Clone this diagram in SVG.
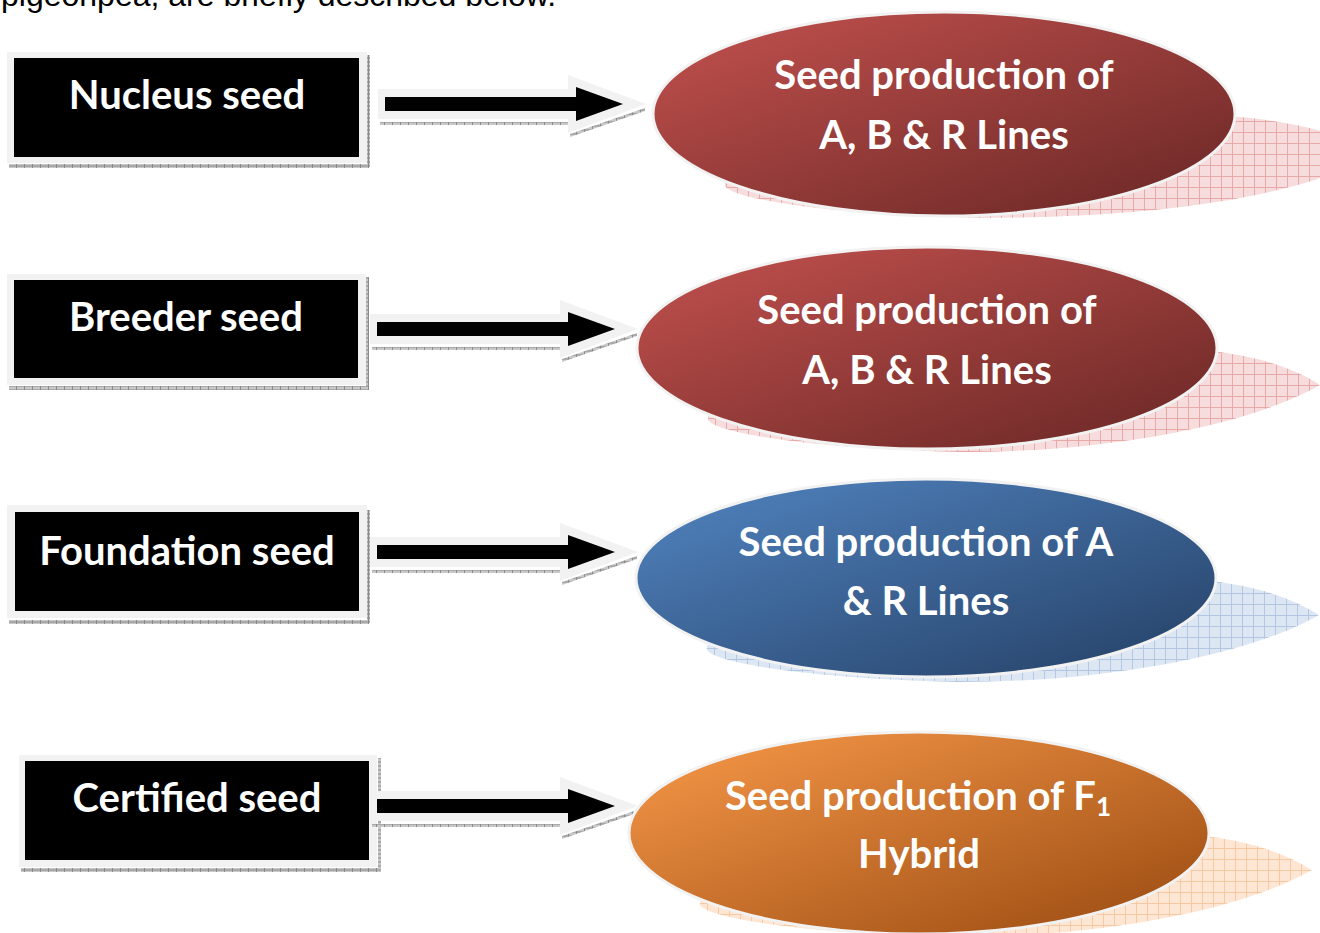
<svg xmlns="http://www.w3.org/2000/svg" width="1320" height="933" viewBox="0 0 1320 933">
<style>
.intro{font-family:"Liberation Sans",Arial,sans-serif;font-size:32px;fill:#000}
.lbl{font-family:Lato,"Open Sans",sans-serif;font-weight:bold;font-size:40px;fill:#fff;text-anchor:middle}
.frame{fill:#f2f2f2}
.blk{fill:#000}
.shd{fill:url(#ghatch)}
.ell{stroke:#f2f2f2;stroke-width:3}
</style>
<defs>
<pattern id="ghatch" width="8" height="4" patternUnits="userSpaceOnUse">
<rect width="8" height="4" fill="#c8c8c8"/>
<line x1="0" y1="2" x2="8" y2="2" stroke="#8a8a8a" stroke-width="1"/>
<line x1="0.5" y1="0" x2="0.5" y2="4" stroke="#8a8a8a" stroke-width="1"/>
</pattern>
<pattern id="pinkGrid" width="11" height="11" patternUnits="userSpaceOnUse">
<rect width="11" height="11" fill="#f6dcdc"/>
<path d="M0 0.5H11M0.5 0V11" stroke="#e6a9a8" stroke-width="1"/>
</pattern>
<pattern id="blueGrid" width="11" height="11" patternUnits="userSpaceOnUse">
<rect width="11" height="11" fill="#dde7f3"/>
<path d="M0 0.5H11M0.5 0V11" stroke="#b3c7e2" stroke-width="1"/>
</pattern>
<pattern id="orangeGrid" width="11" height="11" patternUnits="userSpaceOnUse">
<rect width="11" height="11" fill="#fde6d4"/>
<path d="M0 0.5H11M0.5 0V11" stroke="#f7c9a2" stroke-width="1"/>
</pattern>
<linearGradient id="gRed" x1="0" y1="0" x2="1" y2="1">
<stop offset="0" stop-color="#c4524f"/>
<stop offset="1" stop-color="#672624"/>
</linearGradient>
<linearGradient id="gBlue" x1="0" y1="0" x2="1" y2="1">
<stop offset="0" stop-color="#5285c2"/>
<stop offset="1" stop-color="#243f64"/>
</linearGradient>
<linearGradient id="gOrange" x1="0" y1="0" x2="1" y2="1">
<stop offset="0" stop-color="#f99a4a"/>
<stop offset="1" stop-color="#984910"/>
</linearGradient>
<g id="arrow">
<rect class="shd" x="372" y="18" width="188" height="3"/>
<path class="shd" d="M562 30 L637 4 L637 7 L562 33 Z"/>
<path class="frame" d="M370 -15 H560 V-29 L638 0 L560 29 V15 H370 Z"/>
<path class="blk" d="M377 -7 H568 V-17 L615 0 L568 17 V7 H377 Z"/>
</g>
<path id="shadow" d="M708,420 C715,432 800,448 960,452 C1110,452 1250,425 1320,385 C1290,366 1250,354 1200,350 C1000,335 700,380 708,420 Z"/>
</defs>

<text class="intro" x="1" y="6">pigeonpea, are briefly described below.</text>

<g id="nucleus">
<rect class="shd" x="9" y="164" width="360" height="4"/>
<rect class="shd" x="367" y="55" width="3" height="112"/>
<rect class="frame" x="7" y="52" width="360" height="111"/>
<rect class="blk" x="14" y="58" width="345" height="99"/>
<text class="lbl" x="187" y="109">Nucleus seed</text>
</g>

<g id="breeder">
<rect class="shd" x="9" y="386" width="360" height="4"/>
<rect class="shd" x="366" y="277" width="3" height="112"/>
<rect class="frame" x="7" y="274" width="359" height="111"/>
<rect class="blk" x="14" y="280" width="344" height="98"/>
<text class="lbl" x="186" y="331">Breeder seed</text>
</g>

<g id="foundation">
<rect class="shd" x="9" y="620" width="360" height="4"/>
<rect class="shd" x="367" y="510" width="3" height="113"/>
<rect class="frame" x="7" y="505" width="360" height="113"/>
<rect class="blk" x="15" y="512" width="344" height="99"/>
<text class="lbl" x="187" y="565">Foundation seed</text>
</g>

<g id="certified">
<rect class="shd" x="21" y="868" width="360" height="4"/>
<rect class="shd" x="378" y="758" width="3" height="113"/>
<rect class="frame" x="19" y="755" width="358" height="112"/>
<rect class="blk" x="25" y="761" width="344" height="99"/>
<text class="lbl" x="197" y="812">Certified seed</text>
</g>

<g id="connectors">
<use href="#arrow" transform="translate(8,104)"/>
<use href="#arrow" transform="translate(0,329)"/>
<use href="#arrow" transform="translate(0,552)"/>
<use href="#arrow" transform="translate(0,806)"/>
</g>

<g id="ellipse-ABR-1">
<path d="M725,186 C732,198 817,214 977,218 C1140,218 1300,200 1380,152 C1340,135 1290,118 1217,116 C1017,101 717,146 725,186 Z" fill="url(#pinkGrid)"/>
<ellipse class="ell" cx="944" cy="114" rx="291" ry="102" fill="url(#gRed)"/>
<text class="lbl" x="944" y="89">Seed production of</text>
<text class="lbl" x="944" y="149">A, B &amp; R Lines</text>
</g>

<g id="ellipse-ABR-2">
<use href="#shadow" fill="url(#pinkGrid)"/>
<ellipse class="ell" cx="927" cy="348" rx="290" ry="101" fill="url(#gRed)"/>
<text class="lbl" x="927" y="324">Seed production of</text>
<text class="lbl" x="927" y="384">A, B &amp; R Lines</text>
</g>

<g id="ellipse-AR">
<use href="#shadow" transform="translate(-1,230)" fill="url(#blueGrid)"/>
<ellipse class="ell" cx="926" cy="578" rx="290" ry="99" fill="url(#gBlue)"/>
<text class="lbl" x="926" y="556">Seed production of A</text>
<text class="lbl" x="926" y="615">&amp; R Lines</text>
</g>

<g id="ellipse-F1">
<use href="#shadow" transform="translate(-8,485)" fill="url(#orangeGrid)"/>
<ellipse class="ell" cx="919" cy="833" rx="290" ry="101" fill="url(#gOrange)"/>
<text class="lbl" x="918" y="810">Seed production of F<tspan font-size="26" dy="6">1</tspan></text>
<text class="lbl" x="919" y="868">Hybrid</text>
</g>
</svg>
